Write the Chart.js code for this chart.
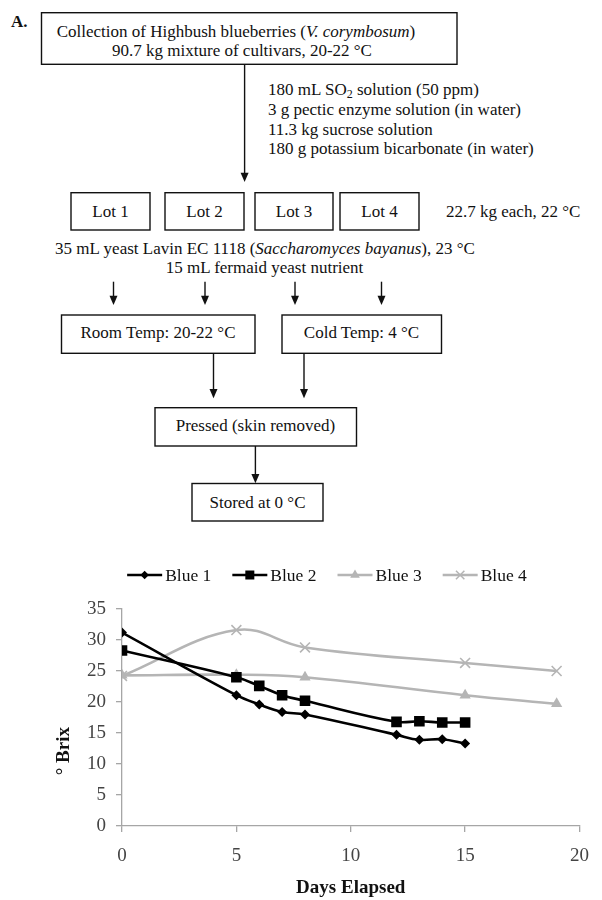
<!DOCTYPE html>
<html>
<head>
<meta charset="utf-8">
<script src="https://cdn.jsdelivr.net/npm/chart.js@4/dist/chart.umd.min.js"></script>
<style>
  html, body { margin: 0; padding: 0; background: #fff; }
  #page { position: relative; width: 602px; height: 900px; overflow: hidden; background: #fff; }
  #flow { position: absolute; left: 0; top: 0; }
  #flow text { font-family: "Liberation Serif", "Times New Roman", serif; font-size: 17px; fill: #111; }
  #chartWrap { position: absolute; left: 0; top: 560px; width: 602px; height: 340px; }
</style>
</head>
<body>
<div id="page">
<svg id="flow" width="602" height="560" xmlns="http://www.w3.org/2000/svg">
  <g stroke="#111" stroke-width="1.4" fill="none">
    <rect x="41.5" y="12.7" width="415.5" height="51.6"/>
    <rect x="71" y="192.7" width="79" height="37.3"/>
    <rect x="165" y="192.7" width="79" height="37.3"/>
    <rect x="255" y="192.7" width="78" height="37.3"/>
    <rect x="340" y="192.7" width="79" height="37.3"/>
    <rect x="61.5" y="315" width="193.5" height="38.3"/>
    <rect x="282" y="315" width="159.5" height="38.3"/>
    <rect x="155" y="407.7" width="201.5" height="38.3"/>
    <rect x="192" y="483.5" width="131" height="37.5"/>
    <line x1="244.6" y1="64.3" x2="244.6" y2="174"/>
    <line x1="113.5" y1="281.7" x2="113.5" y2="297"/>
    <line x1="205" y1="281.7" x2="205" y2="297"/>
    <line x1="295" y1="281.7" x2="295" y2="297"/>
    <line x1="381.5" y1="281.7" x2="381.5" y2="297"/>
    <line x1="213.5" y1="353.3" x2="213.5" y2="390"/>
    <line x1="304" y1="353.3" x2="304" y2="390"/>
    <line x1="255.4" y1="446" x2="255.4" y2="475"/>
  </g>
  <g fill="#111" stroke="none">
    <polygon points="240.6,172.7 248.6,172.7 244.6,182"/>
    <polygon points="109.5,295.7 117.5,295.7 113.5,305"/>
    <polygon points="201,295.7 209,295.7 205,305"/>
    <polygon points="291,295.7 299,295.7 295,305"/>
    <polygon points="377.5,295.7 385.5,295.7 381.5,305"/>
    <polygon points="209.5,389 217.5,389 213.5,398.3"/>
    <polygon points="300,389 308,389 304,398.3"/>
    <polygon points="251.4,474 259.4,474 255.4,483.3"/>
  </g>
  <text x="11" y="27" style="font-weight:bold">A.</text>
  <text x="236" y="37" text-anchor="middle">Collection of Highbush blueberries (<tspan font-style="italic">V. corymbosum</tspan>)</text>
  <text x="242" y="56" text-anchor="middle">90.7 kg mixture of cultivars, 20-22 °C</text>
  <text x="268" y="95">180 mL SO<tspan font-size="12" dy="3">2</tspan><tspan dy="-3"> solution (50 ppm)</tspan></text>
  <text x="268" y="115">3 g pectic enzyme solution (in water)</text>
  <text x="268" y="134.5">11.3 kg sucrose solution</text>
  <text x="268" y="154">180 g potassium bicarbonate (in water)</text>
  <text x="110.5" y="216.5" text-anchor="middle">Lot 1</text>
  <text x="204.5" y="216.5" text-anchor="middle">Lot 2</text>
  <text x="294" y="216.5" text-anchor="middle">Lot 3</text>
  <text x="379.5" y="216.5" text-anchor="middle">Lot 4</text>
  <text x="446" y="216.5">22.7 kg each, 22 °C</text>
  <text x="265" y="254" text-anchor="middle">35 mL yeast Lavin EC 1118 (<tspan font-style="italic">Saccharomyces bayanus</tspan>), 23 °C</text>
  <text x="264.5" y="273" text-anchor="middle">15 mL fermaid yeast nutrient</text>
  <text x="158" y="337.5" text-anchor="middle">Room Temp: 20-22 °C</text>
  <text x="361.5" y="337.5" text-anchor="middle">Cold Temp: 4 °C</text>
  <text x="255.5" y="431" text-anchor="middle">Pressed (skin removed)</text>
  <text x="257.5" y="507.5" text-anchor="middle">Stored at 0 °C</text>
  <text x="13" y="587" style="font-weight:bold">B.</text>
</svg>
<div id="chartWrap"><canvas id="c" width="602" height="340"></canvas></div>
</div>
<script>
// ---- Data ----
const daysBlack = [0, 5, 6, 7, 8, 12, 13, 14, 15];
const daysGray = [0, 5, 8, 15, 19];
const blue1 = [31.2, 21.1, 19.6, 18.4, 18.0, 14.7, 13.9, 14.0, 13.3];
const blue2 = [28.3, 24.0, 22.6, 21.1, 20.2, 16.8, 16.9, 16.7, 16.7];
const blue3 = [24.3, 24.4, 24.0, 21.1, 19.7];
const blue4 = [24.2, 31.6, 28.8, 26.3, 25.0];
const seriesNames = ["Blue 1", "Blue 2", "Blue 3", "Blue 4"];
const xTicks = [0, 5, 10, 15, 20];
const yTicks = [0, 5, 10, 15, 20, 25, 30, 35];
const xTitle = "Days Elapsed";
const yTitle = "° Brix";

function pts(xs, ys) { return xs.map((x, i) => ({ x: x, y: ys[i] })); }

const BLACK = "#000000";
const GRAY = "#b5b5b5";
const SERIF = "'Liberation Serif', 'Times New Roman', serif";

function drawMarker(ctx, style, x, y, r, color) {
  ctx.save();
  ctx.fillStyle = color; ctx.strokeStyle = color;
  ctx.beginPath();
  if (style === "rectRot") {
    ctx.moveTo(x, y - r); ctx.lineTo(x + r, y); ctx.lineTo(x, y + r); ctx.lineTo(x - r, y); ctx.closePath(); ctx.fill();
  } else if (style === "rect") {
    const s = r * Math.SQRT1_2; ctx.rect(x - s, y - s, 2 * s, 2 * s); ctx.fill();
  } else if (style === "triangle") {
    ctx.moveTo(x, y - r); ctx.lineTo(x + r * 0.87, y + r * 0.5); ctx.lineTo(x - r * 0.87, y + r * 0.5); ctx.closePath(); ctx.fill();
  } else if (style === "crossRot") {
    const s = r * Math.SQRT1_2; ctx.lineWidth = 1.5;
    ctx.moveTo(x - s, y - s); ctx.lineTo(x + s, y + s); ctx.moveTo(x + s, y - s); ctx.lineTo(x - s, y + s); ctx.stroke();
  }
  ctx.restore();
}

const customLegend = {
  id: "customLegend",
  afterDraw(chart) {
    const ctx = chart.ctx;
    ctx.save();
    ctx.font = "17.5px " + SERIF;
    ctx.textBaseline = "middle";
    const lineLen = 35, gapText = 3, gapItem = 21, y = 15;
    const dss = chart.data.datasets;
    let total = 0;
    dss.forEach((d, i) => { total += lineLen + gapText + ctx.measureText(d.label).width + (i < dss.length - 1 ? gapItem : 0); });
    let x = 327 - total / 2;
    dss.forEach((d) => {
      ctx.strokeStyle = d.borderColor; ctx.lineWidth = d.borderWidth;
      ctx.beginPath(); ctx.moveTo(x, y); ctx.lineTo(x + lineLen, y); ctx.stroke();
      drawMarker(ctx, d.pointStyle, x + lineLen / 2, y, d.pointRadius * 0.85, d.borderColor);
      ctx.fillStyle = "#111";
      ctx.fillText(d.label, x + lineLen + gapText, y + 1);
      x += lineLen + gapText + ctx.measureText(d.label).width + gapItem;
    });
    // rotated y-axis title
    const a = chart.chartArea;
    ctx.font = "bold 19px " + SERIF;
    ctx.fillStyle = "#111";
    ctx.textAlign = "center";
    ctx.translate(64, a.top + (a.bottom - a.top) * 0.655);
    ctx.rotate(-Math.PI / 2);
    ctx.fillText(yTitle, 0, 0);
    ctx.restore();
  }
};

const axisColor = "#a6a6a6";
new Chart(document.getElementById("c"), {
  type: "line",
  data: {
    datasets: [
      { label: seriesNames[0], data: pts(daysBlack, blue1), borderColor: BLACK, backgroundColor: BLACK, borderWidth: 2.6,
        pointStyle: "rectRot", pointRadius: 5, pointBackgroundColor: BLACK, pointBorderColor: BLACK, pointBorderWidth: 0, tension: 0.4, order: 1 },
      { label: seriesNames[1], data: pts(daysBlack, blue2), borderColor: BLACK, backgroundColor: BLACK, borderWidth: 2.6,
        pointStyle: "rect", pointRadius: 7.5, pointBackgroundColor: BLACK, pointBorderColor: BLACK, pointBorderWidth: 0, tension: 0.4, order: 2 },
      { label: seriesNames[2], data: pts(daysGray, blue3), borderColor: GRAY, backgroundColor: GRAY, borderWidth: 2.6,
        pointStyle: "triangle", pointRadius: 6.5, pointBackgroundColor: GRAY, pointBorderColor: GRAY, pointBorderWidth: 0, tension: 0.4, order: 3 },
      { label: seriesNames[3], data: pts(daysGray, blue4), borderColor: GRAY, backgroundColor: GRAY, borderWidth: 2.6,
        pointStyle: "crossRot", pointRadius: 7, pointBackgroundColor: GRAY, pointBorderColor: GRAY, pointBorderWidth: 1.6, tension: 0.4, order: 4 }
    ]
  },
  options: {
    responsive: false,
    animation: false,
    devicePixelRatio: 1,
    layout: { padding: { top: 49, right: 12, left: 0, bottom: 0 } },
    plugins: { legend: { display: false }, tooltip: { enabled: false }, title: { display: false } },
    scales: {
      x: {
        type: "linear", min: 0, max: 20,
        afterBuildTicks(s) { s.ticks = xTicks.map(v => ({ value: v })); },
        afterFit(s) { s.height = 74; },
        grid: { display: true, drawOnChartArea: false, drawTicks: true, tickLength: 6, color: axisColor, lineWidth: 1.3 },
        border: { display: true, color: axisColor, width: 1.3 },
        ticks: { padding: 13, color: "#444", font: { family: SERIF, size: 19 } },
        title: { display: true, text: xTitle, color: "#111", font: { family: SERIF, size: 19, weight: "bold" }, padding: { top: 0, bottom: 1 } }
      },
      y: {
        type: "linear", min: 0, max: 35,
        afterBuildTicks(s) { s.ticks = yTicks.map(v => ({ value: v })); },
        afterFit(s) { s.width = 122; },
        grid: { display: true, drawOnChartArea: false, drawTicks: true, tickLength: 6, color: axisColor, lineWidth: 1.3 },
        border: { display: true, color: axisColor, width: 1.3 },
        ticks: { padding: 10, color: "#444", font: { family: SERIF, size: 19 } }
      }
    }
  },
  plugins: [customLegend]
});
</script>
</body>
</html>
